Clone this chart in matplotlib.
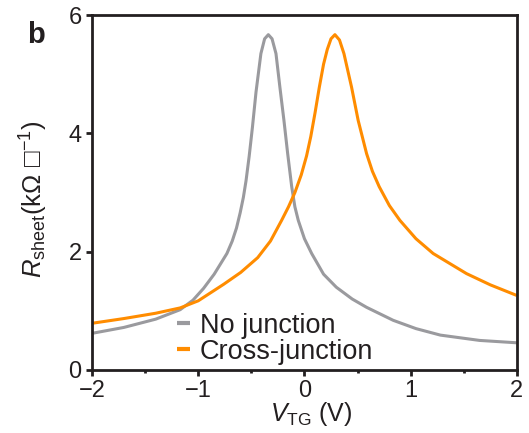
import numpy as np
import matplotlib
matplotlib.use('Agg')
import matplotlib.pyplot as plt
from matplotlib.ticker import MultipleLocator

plt.rcParams['font.family'] = ['Liberation Sans', 'DejaVu Sans']
plt.rcParams['mathtext.fontset'] = 'custom'
plt.rcParams['mathtext.rm'] = 'Liberation Sans'
plt.rcParams['mathtext.it'] = 'Liberation Sans:italic'
plt.rcParams['mathtext.bf'] = 'Liberation Sans:bold'
plt.rcParams['mathtext.fallback'] = 'stixsans'

# Gray: no junction (V_TG in V, R_sheet in kOhm/sq)
v_no = [-2.0, -1.7, -1.4, -1.17, -1.05, -0.95, -0.85, -0.73, -0.68, -0.64,
        -0.605, -0.575, -0.55, -0.52, -0.49, -0.456, -0.41, -0.375, -0.34, -0.305,
        -0.268, -0.231, -0.193, -0.158, -0.12, -0.09, -0.058, 0.0, 0.068, 0.18,
        0.30, 0.45, 0.585, 0.836, 1.05, 1.28, 1.65, 2.0]
r_no = [0.62, 0.72, 0.86, 1.02, 1.18, 1.38, 1.62, 1.97, 2.18, 2.40,
        2.66, 2.92, 3.2, 3.62, 4.1, 4.7, 5.35, 5.6, 5.67, 5.6,
        5.35, 4.78, 4.22, 3.66, 3.10, 2.76, 2.53, 2.22, 1.97, 1.62,
        1.40, 1.20, 1.06, 0.84, 0.70, 0.59, 0.50, 0.46]

# Orange: cross-junction
v_cross = [-2.0, -1.7, -1.4, -1.17, -1.0, -0.76, -0.6, -0.44, -0.32, -0.215,
           -0.15, -0.09, -0.03, 0.02, 0.06, 0.10, 0.14, 0.18, 0.215, 0.25,
           0.287, 0.33, 0.372, 0.444, 0.506, 0.585, 0.64, 0.704, 0.80, 0.899,
           1.05, 1.212, 1.526, 1.75, 2.0]
r_cross = [0.79, 0.87, 0.96, 1.05, 1.17, 1.45, 1.65, 1.9, 2.18, 2.53,
           2.76, 3.0, 3.3, 3.62, 3.95, 4.35, 4.78, 5.17, 5.42, 5.6,
           5.67, 5.58, 5.35, 4.78, 4.22, 3.66, 3.36, 3.10, 2.78, 2.53,
           2.22, 1.97, 1.63, 1.44, 1.26]

gray = '#9a9a9e'
orange = '#ff8c00'
ink = '#231f20'

fig = plt.figure(figsize=(5.29, 4.33), dpi=100)
ax = fig.add_axes([0.174, 0.1455, 0.803, 0.8195])

ax.plot(v_no, r_no, color=gray, lw=2.2, label='No junction',
        solid_joinstyle='round', solid_capstyle='butt')
ax.plot(v_cross, r_cross, color=orange, lw=2.2, label='Cross-junction',
        solid_joinstyle='round', solid_capstyle='butt')

ax.set_xlim(-2, 2)
ax.set_ylim(0, 6)
ax.set_xticks([-2, -1, 0, 1, 2])
ax.set_xticklabels(['\u22122', '\u22121', '0', '1', '2'])
ax.set_yticks([0, 2, 4, 6])
ax.xaxis.set_minor_locator(MultipleLocator(0.5))

for s in ax.spines.values():
    s.set_linewidth(2.0)
    s.set_color(ink)
ax.tick_params(which='major', direction='out', length=4.5, width=2, color=ink,
               labelsize=17, labelcolor=ink, pad=3)
ax.tick_params(which='minor', direction='out', length=2.5, width=2, color=ink)
ax.tick_params(axis='y', which='minor', left=False)

ax.set_xlabel(r'$V_{\mathrm{TG}}$ (V)', fontsize=18, color=ink)
ax.xaxis.set_label_coords(0.515, -0.085)
ax.set_ylabel('$R_{\\mathrm{sheet}}$(k$\\Omega$ $\u25a1^{-1}$)', fontsize=18.5, color=ink)
ax.yaxis.set_label_coords(-0.1, 0.48)

leg = ax.legend(loc='center left', bbox_to_anchor=(0.2, 0.088), frameon=False,
                fontsize=19.5, handlelength=0.48, handletextpad=0.37, labelspacing=0.0,
                borderaxespad=0, borderpad=0)
for t in leg.get_texts():
    t.set_color(ink)
for h in leg.get_lines():
    h.set_linewidth(3)

fig.text(0.051, 0.9, 'b', fontsize=21, fontweight='bold', color=ink)

fig.savefig('out.png', dpi=100)
